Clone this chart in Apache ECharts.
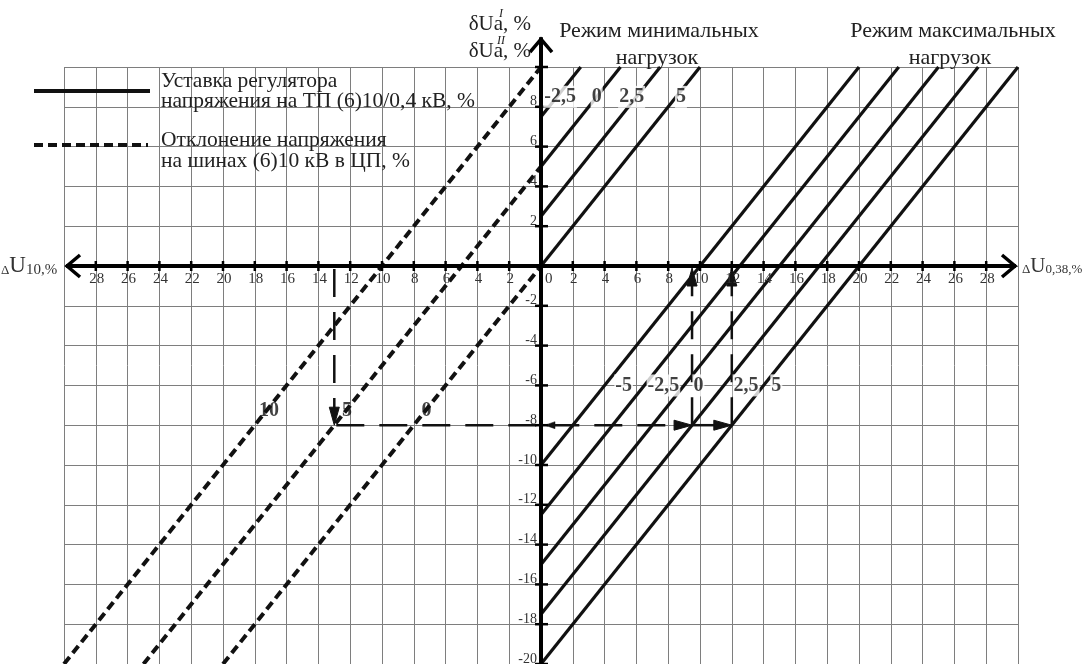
<!DOCTYPE html>
<html>
<head>
<meta charset="utf-8">
<script src="https://cdn.jsdelivr.net/npm/echarts@6/dist/echarts.min.js"></script>
<style>
  html, body { margin: 0; padding: 0; background: #fff; }
  #c { width: 1087px; height: 664px; }
</style>
</head>
<body>
<div id="c"></div>
<script>
// ΔU10 is plotted on the negative half of the horizontal axis and labelled as positive numbers.
const xRange = [-30, 30];
const yRange = [-20, 10];
const yArrowTop = 11.5;

const xTickValues = [-28, -26, -24, -22, -20, -18, -16, -14, -12, -10, -8, -6, -4, -2,
                     2, 4, 6, 8, 10, 12, 14, 16, 18, 20, 22, 24, 26, 28];
const yTickValues = [-20, -18, -16, -14, -12, -10, -8, -6, -4, -2, 2, 4, 6, 8, 10];
const xLabelValues = [-28, -26, -24, -22, -20, -18, -16, -14, -12, -10, -8, -6, -4, -2,
                      0, 2, 4, 6, 8, 10, 12, 14, 16, 18, 20, 22, 24, 26, 28];
const yLabelValues = [-20, -18, -16, -14, -12, -10, -8, -6, -4, -2, 2, 4, 6, 8];

// Regulator setting, minimum-load mode (from the vertical axis to the top edge)
const minLoadLabels = ['-2,5', '0', '2,5', '5'];
const minLoadStart = [[0, 7.5], [0, 5], [0, 2.5], [0, 0]];
const minLoadEnd = [[2.5, 10], [5, 10], [7.5, 10], [10, 10]];
const minLoadLabelPos = [[1.2, 8.5], [3.5, 8.5], [5.7, 8.5], [8.8, 8.5]];

// Regulator setting, maximum-load mode
const maxLoadLabels = ['-5', '-2,5', '0', '2,5', '5'];
const maxLoadStart = [[0, -10], [0, -12.5], [0, -15], [0, -17.5], [0, -20]];
const maxLoadEnd = [[20, 10], [22.5, 10], [25, 10], [27.5, 10], [30, 10]];
const maxLoadLabelPos = [[5.2, -6], [7.7, -6], [9.9, -6], [12.9, -6], [14.8, -6]];

// Voltage deviation on the (6)10 kV buses of the supply centre
const busLabels = ['10', '5', '0'];
const busStart = [[-30, -20], [-25, -20], [-20, -20]];
const busEnd = [[0, 10], [0, 5], [0, 0]];
const busLabelPos = [[-17.1, -7.3], [-12.2, -7.3], [-7.2, -7.3]];

// Worked example: ΔU10 = 13 %, δU = -8 %, read-off ΔU0,38 values
const exampleDU10 = -13;
const exampleDelta = -8;
const exampleResults = [9.5, 12];

const SERIF = "'Liberation Serif', 'Times New Roman', serif";
const INK = '#111';
const TICK_INK = '#333';

function segs(starts, ends) {
  return starts.map((s, i) => ({ coords: [s, ends[i]] }));
}

function textEl(text, x, y, font, fill, align, vAlign) {
  return { type: 'text', x: x, y: y,
           style: { text: text, font: font, fill: fill,
                    textAlign: align, align: align,
                    textVerticalAlign: vAlign, verticalAlign: vAlign } };
}

function arrowHead(tip, dx, dy, len, half) {
  // filled triangle with its point at tip, pointing along (dx, dy)
  const bx = tip[0] - dx * len, by = tip[1] - dy * len;
  const px = -dy * half, py = dx * half;
  return { type: 'polygon', shape: { points: [tip, [bx + px, by + py], [bx - px, by - py]] },
           style: { fill: INK, stroke: INK, lineWidth: 1 } };
}

function seg(a, b, dash, width) {
  return { type: 'line', shape: { x1: a[0], y1: a[1], x2: b[0], y2: b[1] },
           style: { stroke: INK, lineWidth: width, lineDash: dash, fill: null } };
}

function axisDecor(params, api) {
  const ch = [];
  const L = api.coord([xRange[0], 0]);
  const R = api.coord([xRange[1], 0]);
  const B = api.coord([0, yRange[0]]);
  const T = api.coord([0, yArrowTop]);
  const heavy = { stroke: '#000', lineWidth: 4, fill: null };
  ch.push({ type: 'line', shape: { x1: B[0], y1: B[1], x2: T[0], y2: T[1] }, style: heavy });
  ch.push({ type: 'line', shape: { x1: L[0] + 2, y1: L[1], x2: R[0] - 2, y2: R[1] }, style: heavy });
  const arrow = { stroke: '#000', lineWidth: 3.5, fill: null, lineJoin: 'miter' };
  ch.push({ type: 'polyline', shape: { points: [[L[0] + 16, L[1] - 11], [L[0] + 3, L[1]], [L[0] + 16, L[1] + 11]] }, style: arrow });
  ch.push({ type: 'polyline', shape: { points: [[R[0] - 16, R[1] - 11], [R[0] - 3, R[1]], [R[0] - 16, R[1] + 11]] }, style: arrow });
  ch.push({ type: 'polyline', shape: { points: [[T[0] - 11, T[1] + 15], [T[0], T[1] + 2], [T[0] + 11, T[1] + 15]] }, style: arrow });
  xTickValues.forEach(v => {
    const p = api.coord([v, 0]);
    ch.push({ type: 'line', shape: { x1: p[0], y1: p[1] - 5, x2: p[0], y2: p[1] + 5 }, style: { stroke: '#000', lineWidth: 2.5 } });
  });
  yTickValues.forEach(v => {
    const p = api.coord([0, v]);
    ch.push({ type: 'line', shape: { x1: p[0] - 6, y1: p[1], x2: p[0] + 7, y2: p[1] }, style: { stroke: '#000', lineWidth: 2.5 } });
  });
  const tickFont = '15px ' + SERIF;
  xLabelValues.forEach(v => {
    const p = api.coord([v, 0]);
    if (v === 0) {
      ch.push(textEl('0', p[0] + 4, p[1] + 6, tickFont, TICK_INK, 'left', 'top'));
    } else {
      ch.push(textEl(String(Math.abs(v)), p[0] + 1, p[1] + 6, tickFont, TICK_INK, 'center', 'top'));
    }
  });
  yLabelValues.forEach(v => {
    const p = api.coord([0, v]);
    ch.push(textEl(String(v), p[0] - 4, p[1] + 2, '14px ' + SERIF, TICK_INK, 'right', 'bottom'));
  });
  return { type: 'group', children: ch };
}

function exampleRender(params, api) {
  const ch = [];
  const dash = [28, 15];
  const A = api.coord([exampleDU10, 0]);
  const P = api.coord([exampleDU10, exampleDelta]);
  const C1 = api.coord([exampleResults[0], exampleDelta]);
  const C2 = api.coord([exampleResults[1], exampleDelta]);
  const U1 = api.coord([exampleResults[0], 0]);
  const U2 = api.coord([exampleResults[1], 0]);
  const Z = api.coord([0, exampleDelta]);
  const len = 18, half = 5;
  // down from the ΔU10 axis
  ch.push(seg([A[0], A[1] + 3], [P[0], P[1] - len + 2], dash, 2.5));
  ch.push(arrowHead(P, 0, 1, len, half));
  // across to the regulator lines
  ch.push(seg([P[0] + 2, P[1]], [C1[0] - len + 2, C1[1]], dash, 2.5));
  ch.push(arrowHead(C1, 1, 0, len, half));
  ch.push(seg(C1, [C2[0] - len + 2, C2[1]], [], 2.5));
  ch.push(arrowHead(C2, 1, 0, len, half));
  // up to the ΔU0,38 axis
  ch.push(seg(C1, [U1[0], U1[1] + len - 2], dash, 2.5));
  ch.push(arrowHead([U1[0], U1[1] + 2], 0, -1, len, half));
  ch.push(seg(C2, [U2[0], U2[1] + len - 2], dash, 2.5));
  ch.push(arrowHead([U2[0], U2[1] + 2], 0, -1, len, half));
  // small pointer at the vertical axis
  ch.push({ type: 'polygon', shape: { points: [[Z[0] + 4, Z[1]], [Z[0] + 14, Z[1] - 3.5], [Z[0] + 14, Z[1] + 3.5]] },
            style: { fill: INK, stroke: INK, lineWidth: 0.5 } });
  return { type: 'group', children: ch };
}

function labelData(pos, texts) {
  return pos.map((p, i) => [p[0], p[1], texts[i]]);
}

const serifText = (text, x, y, size, align, style) => ({
  type: 'text', x: x, y: y, z: 100, silent: true,
  style: { text: text, font: (style || '') + size + 'px ' + SERIF, fill: '#222',
           textAlign: align, textVerticalAlign: 'middle', align: align, verticalAlign: 'middle' }
});

const axisCaption = (x, y, sub, big, small) => ({
  type: 'text', x: x, y: y, z: 100, silent: true,
  style: { text: '{d|Δ}{u|U}{s|' + sub + '}', fill: '#333', verticalAlign: 'middle', textVerticalAlign: 'middle',
           rich: { d: { font: '13px ' + SERIF, fill: '#333', verticalAlign: 'bottom' },
                   u: { font: big + 'px ' + SERIF, fill: '#333', verticalAlign: 'bottom' },
                   s: { font: small + 'px ' + SERIF, fill: '#333', verticalAlign: 'bottom' } } }
});

const chart = echarts.init(document.getElementById('c'), null, { renderer: 'canvas' });

chart.setOption({
  animation: false,
  backgroundColor: '#fff',
  grid: { left: 64, right: 69, top: 67, bottom: 0, containLabel: false },
  xAxis: {
    type: 'value', min: xRange[0], max: xRange[1], interval: 2,
    axisLine: { show: false }, axisTick: { show: false }, axisLabel: { show: false },
    splitLine: { show: true, lineStyle: { color: '#7e7e7e', width: 1 } }
  },
  yAxis: {
    type: 'value', min: yRange[0], max: yRange[1], interval: 2,
    axisLine: { show: false }, axisTick: { show: false }, axisLabel: { show: false },
    splitLine: { show: true, lineStyle: { color: '#7e7e7e', width: 1 } }
  },
  series: [
    { type: 'lines', coordinateSystem: 'cartesian2d', z: 3, silent: true,
      data: segs(busStart, busEnd),
      lineStyle: { color: INK, width: 4, type: [9, 5], opacity: 1, curveness: 0 } },
    { type: 'lines', coordinateSystem: 'cartesian2d', z: 3, silent: true,
      data: segs(minLoadStart, minLoadEnd),
      lineStyle: { color: INK, width: 3.2, type: 'solid', opacity: 1, curveness: 0 } },
    { type: 'lines', coordinateSystem: 'cartesian2d', z: 3, silent: true,
      data: segs(maxLoadStart, maxLoadEnd),
      lineStyle: { color: INK, width: 3.2, type: 'solid', opacity: 1, curveness: 0 } },
    { type: 'custom', coordinateSystem: 'cartesian2d', z: 4, silent: true, clip: false,
      data: [[0, 0]], renderItem: exampleRender },
    { type: 'custom', coordinateSystem: 'cartesian2d', z: 5, silent: true, clip: false,
      data: [[0, 0]], renderItem: axisDecor },
    { type: 'scatter', z: 10, silent: true, symbolSize: 1,
      itemStyle: { color: 'rgba(0,0,0,0)' },
      data: labelData(minLoadLabelPos, minLoadLabels)
        .concat(labelData(maxLoadLabelPos, maxLoadLabels)),
      label: { show: true, position: 'inside', formatter: p => p.value[2],
               fontFamily: SERIF, fontWeight: 'bold', fontSize: 20, color: INK,
               backgroundColor: '#fff', padding: [1, 1] } },
    { type: 'scatter', z: 10, silent: true, symbolSize: 1,
      itemStyle: { color: 'rgba(0,0,0,0)' },
      data: labelData(busLabelPos, busLabels),
      label: { show: true, position: 'inside', formatter: p => p.value[2],
               fontFamily: SERIF, fontWeight: 'bold', fontSize: 20, color: INK } }
  ],
  graphic: [
    // legend
    { type: 'line', z: 100, silent: true, shape: { x1: 34, y1: 91, x2: 150, y2: 91 },
      style: { stroke: INK, lineWidth: 4 } },
    { type: 'line', z: 100, silent: true, shape: { x1: 34, y1: 145, x2: 148, y2: 145 },
      style: { stroke: INK, lineWidth: 4, lineDash: [9, 5] } },
    serifText('Уставка регулятора', 161, 81, 21.5, 'left'),
    serifText('напряжения на ТП (6)10/0,4 кВ, %', 161, 101, 21.5, 'left'),
    serifText('Отклонение напряжения', 161, 140, 21.5, 'left'),
    serifText('на шинах (6)10 кВ в ЦП, %', 161, 161, 21.5, 'left'),
    // mode captions
    serifText('Режим минимальных', 659, 31, 22, 'center'),
    serifText('нагрузок', 657, 58, 22, 'center'),
    serifText('Режим максимальных', 953, 31, 22, 'center'),
    serifText('нагрузок', 950, 58, 22, 'center'),
    // vertical axis captions
    serifText('δUа, %', 531, 24, 21, 'right'),
    serifText('I', 501, 14, 12, 'center', 'italic '),
    serifText('δUа, %', 531, 51, 21, 'right'),
    serifText('II', 501, 41, 12, 'center', 'italic '),
    // horizontal axis captions
    axisCaption(1, 266, '10,%', 23, 15),
    axisCaption(1022, 266, '0,38,%', 21, 13)
  ]
});
</script>
</body>
</html>
